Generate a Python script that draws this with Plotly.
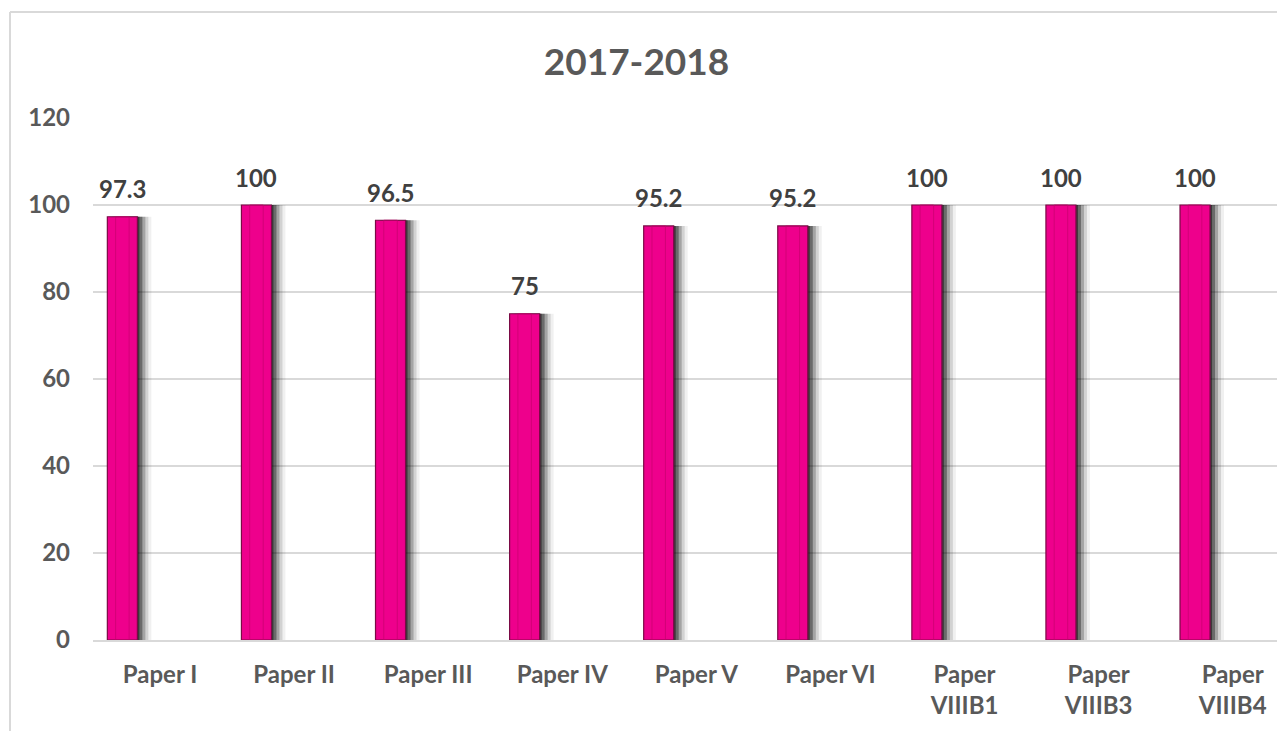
import plotly.graph_objects as go

categories = ["Paper I", "Paper II", "Paper III", "Paper IV", "Paper V", "Paper VI",
              "Paper<br>VIIIB1", "Paper<br>VIIIB3", "Paper<br>VIIIB4"]
values = [97.3, 100, 96.5, 75, 95.2, 95.2, 100, 100, 100]
value_labels = ["97.3", "100", "96.5", "75", "95.2", "95.2", "100", "100", "100"]
y_ticks = [0, 20, 40, 60, 80, 100, 120]
title_text = "2017-2018"

# page has an 8px body margin; size the figure to fit inside the window
W, H = 1277, 723
ML, MR, MT, MB = 85, 0, 110, 91
xr = [-0.5, 8.39]
pw = W - ML - MR
ph = H - MT - MB
ppu = pw / (xr[1] - xr[0])  # pixels per category unit

bar_w = 0.224
bar_off = -0.393

FONT = "Lato, 'Open Sans', sans-serif"
PINK = "#EE008C"

fig = go.Figure()

# soft shadow layers to the right of the bars
for px, col in [(14, "rgba(0,0,0,0.06)"), (11, "rgba(0,0,0,0.12)"),
                (8, "rgba(0,0,0,0.22)"), (5, "rgba(0,0,0,0.35)"), (2, "rgba(0,0,0,0.45)")]:
    fig.add_trace(go.Bar(
        x=categories, y=values, width=bar_w, offset=bar_off + px / ppu,
        marker=dict(color=col, line=dict(width=0)), hoverinfo="skip", showlegend=False))

fig.add_trace(go.Bar(
    x=categories, y=values, width=bar_w, offset=bar_off,
    marker=dict(color=PINK, line=dict(color="#7a0a45", width=1.2)),
    showlegend=False, name="2017-2018"))

# inner bevel line
fig.add_trace(go.Bar(
    x=categories, y=values, width=bar_w * 0.45, offset=bar_off + bar_w * 0.275,
    marker=dict(color="rgba(0,0,0,0)", line=dict(color="rgba(200,0,110,0.7)", width=1)),
    hoverinfo="skip", showlegend=False))

for c, v, t in zip(categories, values, value_labels):
    fig.add_annotation(x=c, y=v, text=t, showarrow=False,
                       xshift=(bar_off + bar_w / 2) * ppu, yshift=28, yanchor="middle",
                       font=dict(family=FONT, size=24, color="#404040", weight="bold"))

border = "#d9d9d9"
fx0 = (2 - ML) / pw
fy0 = 1 + (MT - 4) / ph
fy1 = (ph + MT - H) / ph
fig.add_shape(type="line", xref="paper", yref="paper", x0=fx0, x1=1.01, y0=fy0, y1=fy0,
              line=dict(color=border, width=2))
fig.add_shape(type="line", xref="paper", yref="paper", x0=fx0, x1=fx0, y0=fy0, y1=fy1 - 0.01,
              line=dict(color=border, width=2))

fig.update_layout(
    width=W, height=H,
    margin=dict(l=ML, r=MR, t=MT, b=MB),
    paper_bgcolor="white", plot_bgcolor="white",
    barmode="overlay",
    title=dict(text=title_text, xref="container", x=(636.5 - 8) / W, xanchor="center",
               yref="container", y=1 - 54 / H, yanchor="middle",
               font=dict(family=FONT, size=37, color="#595959", weight="bold")),
    xaxis=dict(type="category", range=xr, showgrid=False, showline=True,
               linecolor=border, linewidth=2, ticks="", ticklabelstandoff=12,
               tickfont=dict(family=FONT, size=24, color="#595959", weight="bold")),
    yaxis=dict(range=[0, 120], tickvals=y_ticks, showgrid=True, gridcolor=border,
               gridwidth=1.5, zeroline=False, showline=False, ticks="",
               ticklabelstandoff=22,
               tickfont=dict(family=FONT, size=24, color="#595959", weight="bold")),
)

fig.write_html("out.html")
